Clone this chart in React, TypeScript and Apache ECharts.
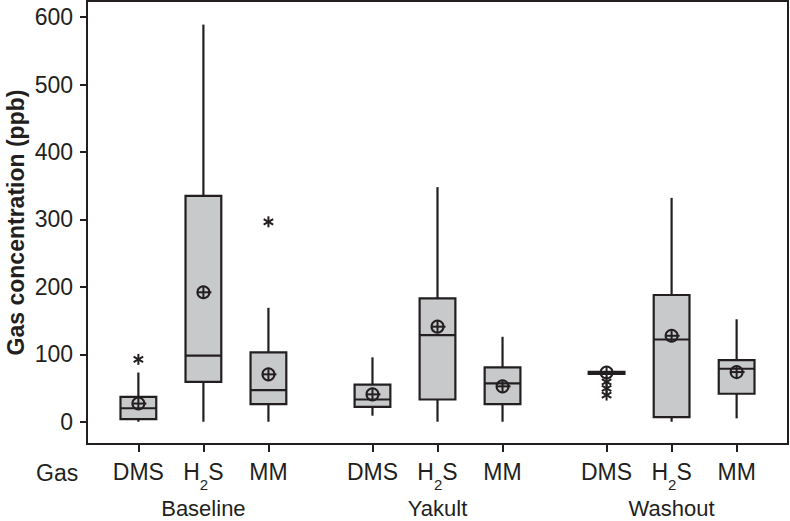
import React, { useEffect, useRef } from "react";
import * as echarts from "echarts";

// ---- data ----
const gasNames = ["DMS", "H2S", "MM", "DMS", "H2S", "MM", "DMS", "H2S", "MM"];
const xPos = [1, 2, 3, 4.6, 5.6, 6.6, 8.2, 9.2, 10.2];
const groupNames = ["Baseline", "Yakult", "Washout"];
const groupPos = [2, 5.6, 9.2];
const yTicks = [0, 100, 200, 300, 400, 500, 600];

// whisker low, Q1, median, Q3, whisker high
const whiskerLow = [0, 0, 0, 9, 0, 0, 71, 0, 5];
const q1 = [4, 59, 26, 22, 33, 26, 71, 7, 41.5];
const median = [20, 98, 47, 33, 128.5, 57, 72.5, 122, 78.6];
const q3 = [37, 335, 103, 55, 183, 80.6, 74, 188, 91.5];
const whiskerHigh = [73, 589, 169, 95.5, 348, 126, 74, 332, 152];
const means = [27, 192, 70.3, 40.6, 141, 52.5, 73, 127.5, 73.7];

// outliers: [x position, value]
const outlierX = [1, 3, 8.2, 8.2, 8.2];
const outlierY = [92.5, 296.5, 59, 49.5, 39.6];

const INK = "#231f20";
const BOX_FILL = "#c8c9cb";
const FONT = "'Liberation Sans', Arial, Helvetica, sans-serif";
const BOX_W = 0.55;

const near = (a: number, b: number) => Math.abs(a - b) < 1e-6;

export default function App() {
  const ref = useRef<HTMLDivElement>(null);

  useEffect(() => {
    if (!ref.current) return;
    const chart = echarts.init(ref.current, undefined, { renderer: "svg" });

    const boxData = xPos.map((x, i) => [x, whiskerLow[i], q1[i], median[i], q3[i], whiskerHigh[i]]);
    const meanData = xPos.map((x, i) => [x, means[i]]);
    const outData = outlierX.map((x, i) => [x, outlierY[i]]);

    const boxRender = (_p: any, api: any) => {
      const x = api.value(0);
      const lo = api.coord([x, api.value(1)]);
      const a = api.coord([x, api.value(2)]);
      const m = api.coord([x, api.value(3)]);
      const b = api.coord([x, api.value(4)]);
      const hi = api.coord([x, api.value(5)]);
      const w = api.size([BOX_W, 0])[0];
      const cx = lo[0];
      const ls = { stroke: INK, lineWidth: 2.2 };
      return {
        type: "group",
        children: [
          { type: "line", shape: { x1: cx, y1: hi[1], x2: cx, y2: b[1] }, style: ls },
          { type: "line", shape: { x1: cx, y1: a[1], x2: cx, y2: lo[1] }, style: ls },
          {
            type: "rect",
            shape: { x: cx - w / 2, y: b[1], width: w, height: a[1] - b[1] },
            style: { fill: BOX_FILL, stroke: INK, lineWidth: 2.2 },
          },
          { type: "line", shape: { x1: cx - w / 2, y1: m[1], x2: cx + w / 2, y2: m[1] }, style: ls },
        ],
      };
    };

    const meanRender = (_p: any, api: any) => {
      const c = api.coord([api.value(0), api.value(1)]);
      const r = 6;
      const ls = { stroke: INK, lineWidth: 2, fill: "none" };
      return {
        type: "group",
        children: [
          { type: "circle", shape: { cx: c[0], cy: c[1], r }, style: { stroke: INK, lineWidth: 2, fill: "none" } },
          { type: "line", shape: { x1: c[0] - r, y1: c[1], x2: c[0] + r + 2, y2: c[1] }, style: ls },
          { type: "line", shape: { x1: c[0], y1: c[1] - r, x2: c[0], y2: c[1] + r }, style: ls },
        ],
      };
    };

    const starRender = (_p: any, api: any) => {
      const c = api.coord([api.value(0), api.value(1)]);
      const r = 5.5;
      const ls = { stroke: INK, lineWidth: 2 };
      const dx = r * Math.cos(Math.PI / 6);
      const dy = r * Math.sin(Math.PI / 6);
      return {
        type: "group",
        children: [
          { type: "line", shape: { x1: c[0], y1: c[1] - r, x2: c[0], y2: c[1] + r }, style: ls },
          { type: "line", shape: { x1: c[0] - dx, y1: c[1] - dy, x2: c[0] + dx, y2: c[1] + dy }, style: ls },
          { type: "line", shape: { x1: c[0] - dx, y1: c[1] + dy, x2: c[0] + dx, y2: c[1] - dy }, style: ls },
        ],
      };
    };

    const gasLabel = (v: number) => {
      const i = xPos.findIndex((p) => near(p, v));
      if (i < 0) return "";
      const n = gasNames[i];
      if (n === "H2S") return "{m|H}{sub|2}{m|S}";
      return "{m|" + n + "}";
    };

    const option: any = {
      animation: false,
      backgroundColor: "#ffffff",
      textStyle: { fontFamily: FONT },
      grid: {
        left: 87,
        top: 1,
        right: 2,
        bottom: 77,
        show: true,
        borderColor: INK,
        borderWidth: 2,
        backgroundColor: "transparent",
        containLabel: false,
        outerBoundsMode: "none",
      },
      xAxis: [
        {
          type: "value",
          min: 0.21,
          max: 10.99,
          splitLine: { show: false },
          axisLine: { show: true, onZero: false, lineStyle: { color: INK, width: 2 } },
          axisTick: {
            show: true,
            customValues: xPos,
            length: 8,
            lineStyle: { color: INK, width: 2 },
          },
          axisLabel: {
            customValues: xPos,
            margin: 16,
            formatter: gasLabel,
            color: INK,
            fontSize: 23,
            rich: {
              m: { fontSize: 23, lineHeight: 26, verticalAlign: "top", color: INK, fontFamily: FONT },
              sub: {
                fontSize: 15,
                lineHeight: 15,
                padding: [17, 0, 0, 0],
                verticalAlign: "top",
                color: INK,
                fontFamily: FONT,
              },
            },
          },
        },
        {
          type: "value",
          min: 0.21,
          max: 10.99,
          position: "bottom",
          splitLine: { show: false },
          axisLine: { show: false, onZero: false },
          axisTick: { show: false },
          axisLabel: {
            customValues: groupPos,
            margin: 53,
            fontSize: 22,
            lineHeight: 23,
            color: INK,
            fontFamily: FONT,
            formatter: (v: number) => {
              const i = groupPos.findIndex((p) => near(p, v));
              return i < 0 ? "" : groupNames[i];
            },
          },
        },
      ],
      yAxis: {
        type: "value",
        min: -33,
        max: 624,
        name: "Gas concentration (ppb)",
        nameLocation: "middle",
        nameGap: 59,
        nameMoveOverlap: false,
        nameTextStyle: { fontSize: 23, lineHeight: 25, fontWeight: "bold", color: INK, fontFamily: FONT },
        splitLine: { show: false },
        axisLine: { show: true, onZero: false, lineStyle: { color: INK, width: 2 } },
        axisTick: {
          show: true,
          customValues: yTicks,
          length: 7,
          lineStyle: { color: INK, width: 2 },
        },
        axisLabel: {
          customValues: yTicks,
          margin: 14,
          fontSize: 23,
          color: INK,
          fontFamily: FONT,
        },
      },
      graphic: [
        {
          type: "text",
          left: 36,
          top: 461,
          style: { text: "Gas", fontSize: 23, fill: INK, fontFamily: FONT },
        },
      ],
      series: [
        { type: "custom", xAxisIndex: 0, renderItem: boxRender, data: boxData, z: 2 },
        { type: "custom", xAxisIndex: 0, renderItem: meanRender, data: meanData, z: 3 },
        { type: "custom", xAxisIndex: 0, renderItem: starRender, data: outData, z: 3 },
      ],
    };

    chart.setOption(option);
    return () => chart.dispose();
  }, []);

  return (
    <div
      ref={ref}
      style={{ position: "fixed", left: 0, top: 0, width: 790, height: 521, background: "#fff" }}
    />
  );
}
